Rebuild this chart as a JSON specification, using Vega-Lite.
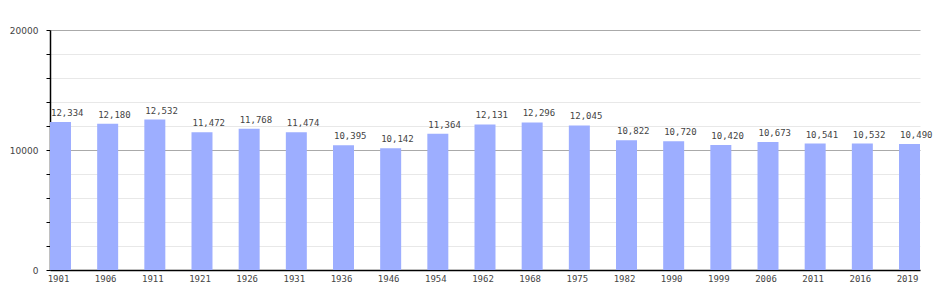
{
  "$schema": "https://vega.github.io/schema/vega-lite/v6.json",
  "width": 870,
  "height": 240,
  "autosize": "none",
  "padding": {"left": 50, "top": 30, "right": 30, "bottom": 30},
  "background": "white",
  "data": {"values": [
    {"year": "1901", "pop": 12334},
    {"year": "1906", "pop": 12180},
    {"year": "1911", "pop": 12532},
    {"year": "1921", "pop": 11472},
    {"year": "1926", "pop": 11768},
    {"year": "1931", "pop": 11474},
    {"year": "1936", "pop": 10395},
    {"year": "1946", "pop": 10142},
    {"year": "1954", "pop": 11364},
    {"year": "1962", "pop": 12131},
    {"year": "1968", "pop": 12296},
    {"year": "1975", "pop": 12045},
    {"year": "1982", "pop": 10822},
    {"year": "1990", "pop": 10720},
    {"year": "1999", "pop": 10420},
    {"year": "2006", "pop": 10673},
    {"year": "2011", "pop": 10541},
    {"year": "2016", "pop": 10532},
    {"year": "2019", "pop": 10490}
  ]},
  "config": {"view": {"stroke": null}},
  "encoding": {
    "x": {
      "field": "year", "type": "ordinal", "sort": null,
      "scale": {"paddingInner": 0.555, "paddingOuter": 0},
      "axis": {
        "title": null, "labelAngle": 0, "ticks": false, "domainColor": "#000", "domainWidth": 1.5,
        "labelFont": "DejaVu Sans Mono", "labelFontSize": 9, "labelColor": "#444", "labelPadding": 4, "labelOffset": -2
      }
    },
    "y": {
      "field": "pop", "type": "quantitative",
      "scale": {"domain": [0, 20000], "nice": false},
      "axis": {
        "title": null,
        "values": [0, 2000, 4000, 6000, 8000, 10000, 12000, 14000, 16000, 18000, 20000],
        "labelExpr": "datum.value % 10000 === 0 ? format(datum.value, 'd') : ''",
        "labelFont": "DejaVu Sans", "labelFontSize": 9, "labelColor": "#444", "labelPadding": 8,
        "domainColor": "#000", "domainWidth": 1.5,
        "tickColor": "#000", "tickSize": 4,
        "gridColor": {"condition": {"test": "datum.value % 10000 === 0", "value": "#aaaaaa"}, "value": "#e8e8e8"},
        "grid": true
      }
    }
  },
  "layer": [
    {"mark": {"type": "bar", "color": "#9daeff"}},
    {
      "mark": {"type": "text", "align": "left", "baseline": "bottom", "dx": 1, "dy": -4, "font": "DejaVu Sans Mono", "fontSize": 9, "color": "#444"},
      "encoding": {
        "x": {"field": "year", "type": "ordinal", "sort": null, "bandPosition": 0},
        "text": {"field": "pop", "type": "quantitative", "format": ","}
      }
    }
  ]
}
